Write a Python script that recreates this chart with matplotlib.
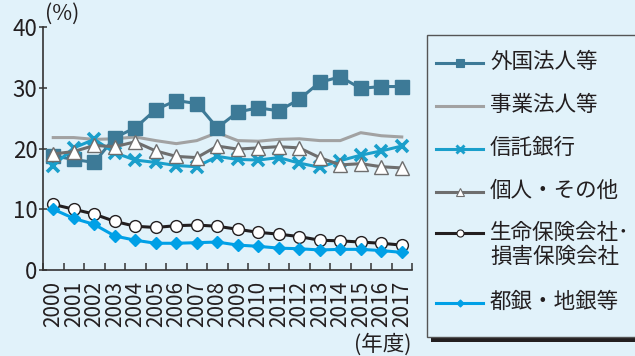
import matplotlib
matplotlib.use("Agg")
import matplotlib.pyplot as plt
from matplotlib.lines import Line2D
from matplotlib.patches import Rectangle

plt.rcParams['font.family'] = ['Noto Sans CJK JP', 'DejaVu Sans']

years = [str(y) for y in range(2000, 2018)]

foreign = [18.8, 18.2, 17.7, 21.8, 23.4, 26.4, 27.9, 27.4, 23.4, 26.0, 26.7, 26.2,
           28.1, 30.9, 31.8, 29.9, 30.2, 30.2]
corporate = [21.8, 21.8, 21.5, 21.6, 21.9, 21.3, 20.8, 21.3, 22.6, 21.3, 21.2, 21.5,
             21.6, 21.3, 21.3, 22.6, 22.1, 21.9]
trust_banks = [17.2, 20.1, 21.5, 19.3, 18.1, 17.7, 17.2, 17.0, 18.7, 18.2, 18.1, 18.5,
               17.6, 16.9, 18.0, 18.9, 19.6, 20.4]
individuals = [19.1, 19.5, 20.5, 20.3, 21.1, 19.6, 18.7, 18.5, 20.4, 19.9, 20.1, 20.3,
               20.1, 18.5, 17.3, 17.5, 17.0, 16.8]
insurance = [10.8, 10.0, 9.2, 8.0, 7.2, 7.0, 7.3, 7.4, 7.2, 6.7, 6.2, 5.9,
             5.5, 4.9, 4.8, 4.6, 4.4, 4.1]
city_regional_banks = [10.0, 8.5, 7.5, 5.6, 4.9, 4.4, 4.4, 4.5, 4.6, 4.1, 3.9, 3.6,
                       3.5, 3.3, 3.4, 3.4, 3.2, 2.9]

labels = ["外国法人等", "事業法人等", "信託銀行", "個人・その他",
          "生命保険会社･\n損害保険会社", "都銀・地銀等"]

BG = "#e1f2fa"
C_FOREIGN = "#3d7a97"
C_CORP = "#a2a2a2"
C_TRUST = "#1a9fcb"
C_INDIV = "#6e6e6e"
C_INS = "#231f20"
C_BANK = "#00a0e6"
AX_COL = "#333333"
TXT = "#231f20"

W, H = 635, 356
fig = plt.figure(figsize=(W / 100, H / 100), dpi=100, facecolor=BG)

# plot area in pixel terms
left, right, top, bottom = 43, 412, 27, 270
ax = fig.add_axes([left / W, 1 - bottom / H, (right - left) / W, (bottom - top) / H])
ax.set_facecolor(BG)

x = list(range(len(years)))

# series in legend order: (values, style, drawing order)
series = [
    (foreign, dict(color=C_FOREIGN, lw=2.2, marker="s", ms=10, mfc=C_FOREIGN,
                   mec=C_FOREIGN), 3),
    (corporate, dict(color=C_CORP, lw=2.2, marker=None), 2),
    (trust_banks, dict(color=C_TRUST, lw=2.2, marker="x", ms=8.5, mew=2.6), 4),
    (individuals, dict(color=C_INDIV, lw=2.2, marker="^", ms=10, mfc="white",
                       mec=C_INDIV, mew=1.0), 5),
    (insurance, dict(color=C_INS, lw=2.2, marker="o", ms=8.5, mfc="white",
                     mec=C_INS, mew=1.0), 5),
    (city_regional_banks, dict(color=C_BANK, lw=2.2, marker="D", ms=6, mfc=C_BANK,
                               mec=C_BANK), 6),
]
for vals, st, z in series:
    ax.plot(x, vals, clip_on=False, zorder=z, **st)

ax.set_xlim(-0.5, len(years) - 0.5)
ax.set_ylim(0, 40)
ax.set_yticks([0, 10, 20, 30, 40])
ax.tick_params(axis="y", direction="inout", length=6, width=1.1, colors=AX_COL,
               labelsize=16, pad=1, labelcolor=TXT)
ax.set_xticks(x)
ax.set_xticklabels(years, rotation=90, fontsize=15, color=TXT)
ax.tick_params(axis="x", which="major", length=0, pad=8)
ax.set_xticks([i - 0.5 for i in range(len(years) + 1)], minor=True)
ax.tick_params(axis="x", which="minor", direction="in", length=5, width=1.1,
               colors=AX_COL)
for s in ("top", "right"):
    ax.spines[s].set_visible(False)
for s in ("left", "bottom"):
    ax.spines[s].set_color(AX_COL)
    ax.spines[s].set_linewidth(1.2)

# overlay in pixel coordinates for annotations and legend
ov = fig.add_axes([0, 0, 1, 1], zorder=10)
ov.set_xlim(0, W)
ov.set_ylim(H, 0)
ov.axis("off")
ov.patch.set_alpha(0)

ov.text(45, 14, "(%)", fontsize=15.5, color=TXT, ha="left", va="center")
ov.text(411, 345, "(年度)", fontsize=15.5, color=TXT, ha="right", va="center")

# legend box with drop shadow
ov.add_patch(Rectangle((431, 40), 215, 302, facecolor=TXT, edgecolor="none",
                       zorder=1))
ov.add_patch(Rectangle((427, 35), 215, 302, facecolor=BG, edgecolor="#555555",
                       lw=1.0, zorder=2))

rows_y = [63, 106, 149, 192, 233, 303]
text_y = [62, 105, 148, 191, 245, 302]
x0, x1, tx = 436, 483, 490
for (vals, st, z), lab, yy, ty in zip(series, labels, rows_y, text_y):
    ov.add_line(Line2D([x0, x1], [yy, yy], color=st["color"], lw=st["lw"], zorder=3))
    if st.get("marker"):
        ms = st.get("ms", 8) * 0.6
        ov.add_line(Line2D([(x0 + x1) / 2], [yy], marker=st["marker"], ms=ms,
                           mfc=st.get("mfc", st["color"]),
                           mec=st.get("mec", st["color"]),
                           mew=st.get("mew", 1.0) * 0.8, lw=0, zorder=4))
    ov.text(tx, ty, lab, fontsize=15.5, color=TXT, ha="left", va="center",
            linespacing=1.15, zorder=4)

fig.savefig("out.png", dpi=100, facecolor=BG)
